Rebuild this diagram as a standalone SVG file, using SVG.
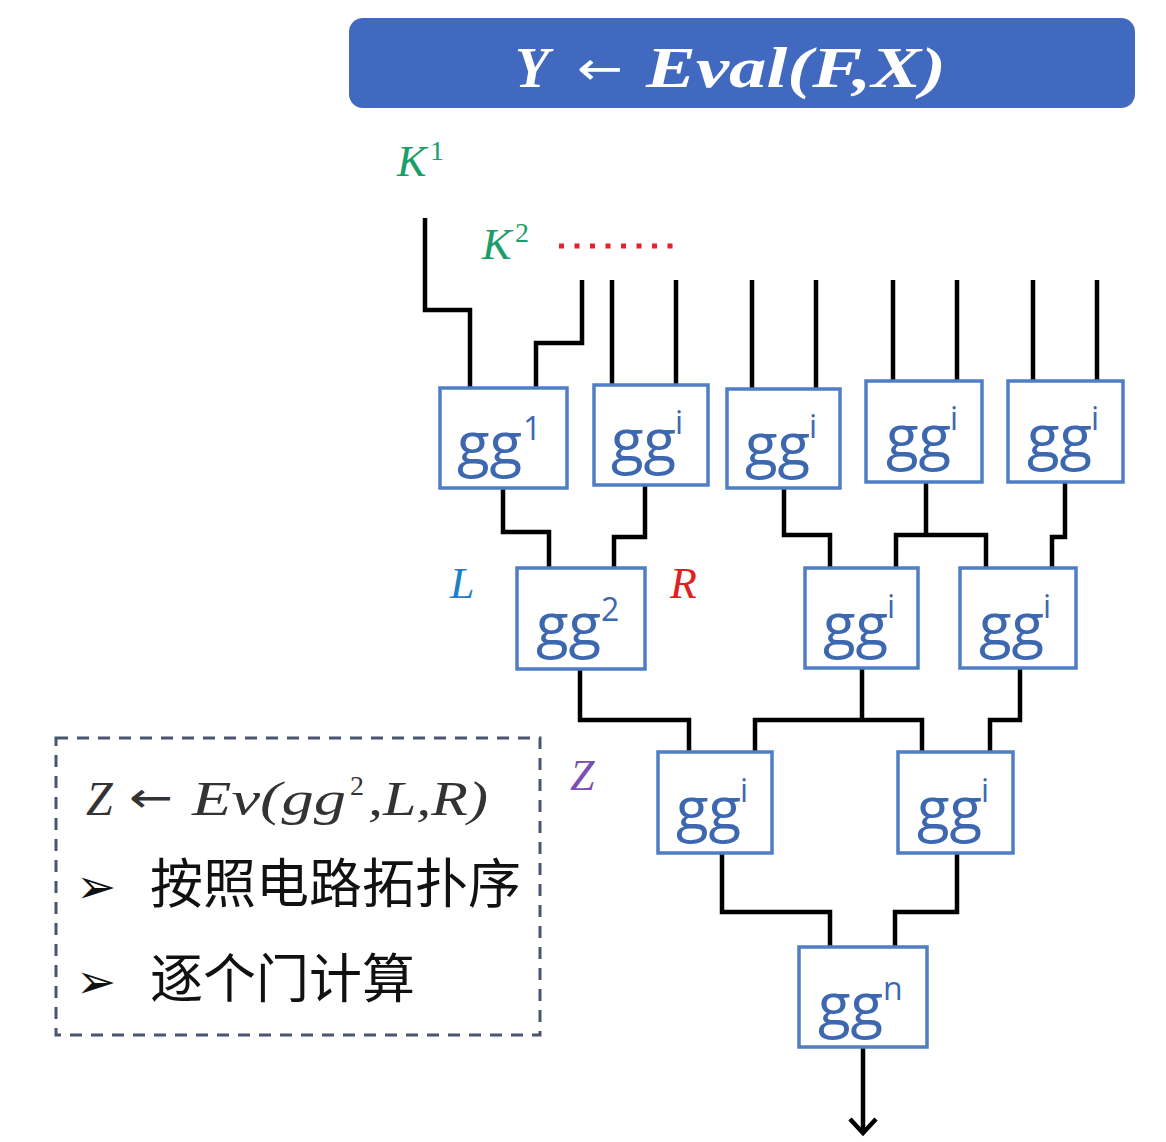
<svg xmlns="http://www.w3.org/2000/svg" width="1166" height="1142" viewBox="0 0 1166 1142">
<defs>
<style>
.box{fill:#fff;stroke:#4f7ec4;stroke-width:3.5}
.gg{font-family:"Open Sans","Liberation Sans",sans-serif;font-size:60px;fill:#3d68b0}
.sup{font-family:"Open Sans","Liberation Sans",sans-serif;font-size:32px;fill:#3d68b0}
.w{fill:none;stroke:#000;stroke-width:4.5;stroke-linejoin:miter}
.math{font-family:"Liberation Serif","DejaVu Serif",serif;font-style:italic}
.cn{font-family:"Noto Sans CJK SC","Noto Sans",sans-serif;font-size:53px;fill:#111}
.blt{font-family:"DejaVu Sans",sans-serif;font-size:48px;fill:#111}
</style>
</defs>
<rect width="1166" height="1142" fill="#fff"/>

<g id="title">
<rect x="349" y="18" width="786" height="90" rx="14" fill="#4169c0"/>
<text x="515" y="87" class="math" font-weight="bold" font-size="56" fill="#fff">Y</text>
<text x="577" y="84" font-family="DejaVu Sans,sans-serif" font-size="46" fill="#fff" textLength="46" lengthAdjust="spacingAndGlyphs">←</text>
<text x="646" y="87" class="math" font-weight="bold" font-size="56" fill="#fff" textLength="300" lengthAdjust="spacingAndGlyphs">Eval(F,X)</text>
</g>

<g id="keys">
<text x="397" y="176" class="math" font-size="44" fill="#1a9e6a">K</text>
<text x="430" y="160" font-family="Liberation Serif,serif" font-size="28" fill="#1a9e6a">1</text>
<text x="482" y="259" class="math" font-size="44" fill="#1a9e6a">K</text>
<text x="515" y="242" font-family="Liberation Serif,serif" font-size="28" fill="#1a9e6a">2</text>
<line x1="559" y1="246" x2="673" y2="246" stroke="#e8202a" stroke-width="5" stroke-dasharray="5 10.5"/>
</g>

<g id="connectors">
<path class="w" d="M425 218 V310 H470 V388"/>
<path class="w" d="M582 280 V343 H536 V388"/>
<path class="w" d="M612 280 V385 M676 280 V385"/>
<path class="w" d="M752 280 V389 M816 280 V389"/>
<path class="w" d="M893 280 V381 M957 280 V381"/>
<path class="w" d="M1033 280 V381 M1097 280 V381"/>
<path class="w" d="M503 488 V532 H549 V568"/>
<path class="w" d="M645 485 V537 H614 V568"/>
<path class="w" d="M784 488 V535 H830 V568"/>
<path class="w" d="M926 482 V535 M896 568 V535 H986 V568"/>
<path class="w" d="M1065 482 V537 H1052 V568"/>
<path class="w" d="M580 669 V720 H689 V752"/>
<path class="w" d="M862 668 V720 M755 752 V720 H922 V752"/>
<path class="w" d="M1020 668 V720 H990 V752"/>
<path class="w" d="M722 853 V912 H830 V947"/>
<path class="w" d="M957 853 V912 H895 V947"/>
<path class="w" d="M863 1047 V1133"/>
<path class="w" d="M850 1119 L863 1133 L876 1119"/>
</g>

<g id="gg1"><rect class="box" x="440" y="388" width="127" height="100"/><text class="gg" x="457" y="465">gg</text><text class="sup" x="523" y="440">1</text></g>
<g id="ggi-a"><rect class="box" x="594" y="385" width="114" height="100"/><text class="gg" x="611" y="462">gg</text><text class="sup" x="675" y="434">i</text></g>
<g id="ggi-b"><rect class="box" x="727" y="389" width="113" height="99"/><text class="gg" x="745" y="466">gg</text><text class="sup" x="809" y="438">i</text></g>
<g id="ggi-c"><rect class="box" x="866" y="381" width="116" height="101"/><text class="gg" x="886" y="458">gg</text><text class="sup" x="950" y="430">i</text></g>
<g id="ggi-d"><rect class="box" x="1008" y="381" width="115" height="101"/><text class="gg" x="1027" y="458">gg</text><text class="sup" x="1091" y="430">i</text></g>

<g id="gg2"><rect class="box" x="517" y="568" width="128" height="101"/><text class="gg" x="536" y="646">gg</text><text class="sup" x="601" y="621">2</text></g>
<g id="ggi-e"><rect class="box" x="805" y="568" width="113" height="100"/><text class="gg" x="823" y="646">gg</text><text class="sup" x="887" y="618">i</text></g>
<g id="ggi-f"><rect class="box" x="960" y="568" width="116" height="100"/><text class="gg" x="979" y="646">gg</text><text class="sup" x="1043" y="618">i</text></g>

<g id="ggi-g"><rect class="box" x="658" y="752" width="114" height="101"/><text class="gg" x="676" y="830">gg</text><text class="sup" x="740" y="802">i</text></g>
<g id="ggi-h"><rect class="box" x="898" y="752" width="115" height="101"/><text class="gg" x="917" y="830">gg</text><text class="sup" x="981" y="802">i</text></g>

<g id="ggn"><rect class="box" x="799" y="947" width="128" height="100"/><text class="gg" x="818" y="1026">gg</text><text class="sup" x="883" y="1000">n</text></g>

<g id="labels">
<text x="450" y="598" class="math" font-size="44" fill="#1f80c8">L</text>
<text x="670" y="598" class="math" font-size="44" fill="#e02020">R</text>
<text x="570" y="790" class="math" font-size="44" fill="#7b4fb5">Z</text>
</g>

<g id="note">
<rect x="56" y="738" width="484" height="297" fill="none" stroke="#4a5570" stroke-width="3" stroke-dasharray="12 9"/>
<text x="86" y="815" class="math" font-size="48" fill="#333">Z</text>
<text x="129" y="812" font-family="DejaVu Sans,sans-serif" font-size="42" fill="#333" textLength="44" lengthAdjust="spacingAndGlyphs">←</text>
<text x="192" y="815" class="math" font-size="48" fill="#333" textLength="154" lengthAdjust="spacingAndGlyphs">Ev(gg</text>
<text x="350" y="795" font-family="Liberation Serif,serif" font-size="28" fill="#333">2</text>
<text x="368" y="815" class="math" font-size="48" fill="#333" textLength="120" lengthAdjust="spacingAndGlyphs">,L,R)</text>
<text x="76" y="903" class="blt">➢</text>
<text x="150" y="903" class="cn">按照电路拓扑序</text>
<text x="76" y="998" class="blt">➢</text>
<text x="150" y="998" class="cn">逐个门计算</text>
</g>
</svg>
